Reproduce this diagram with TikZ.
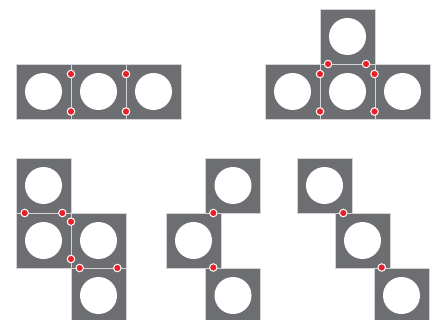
\documentclass[tikz,border=0pt]{standalone}
\definecolor{tilegray}{HTML}{6D6E71}
\definecolor{edgegray}{HTML}{D4D4D6}
\definecolor{dotred}{HTML}{E8202A}
\tikzset{
  tile/.style={rectangle, minimum size=55pt, inner sep=0pt, outer sep=0pt,
    fill=tilegray, draw=edgegray, line width=0.8pt,
    path picture={\fill[white] (path picture bounding box.center) circle (18.5pt);}},
  joint/.style={circle, minimum size=7.5pt, inner sep=0pt, fill=dotred, draw=white, line width=1pt}
}
\begin{document}
\begin{tikzpicture}[x=1pt,y=-1pt]
\useasboundingbox (0,0) rectangle (435,320);
\begin{scope}
\clip (0,0) rectangle (435,320);
% row of three
\node[tile] (r1) at (43.5,91.5) {};
\node[tile] (r2) at (98.5,91.5) {};
\node[tile] (r3) at (153.5,91.5) {};
% T shape
\node[tile] (t1) at (292.5,91.5) {};
\node[tile] (t2) at (347.5,91.5) {};
\node[tile] (t3) at (402.5,91.5) {};
\node[tile] (t4) at (347.5,36.5) {};
% S shape
\node[tile] (s1) at (43.5,185.5) {};
\node[tile] (s2) at (43.5,240.5) {};
\node[tile] (s3) at (98.5,240.5) {};
\node[tile] (s4) at (98.5,295.5) {};
% zigzag
\node[tile] (z1) at (233,185.5) {};
\node[tile] (z2) at (193.5,240.5) {};
\node[tile] (z3) at (233,295.5) {};
% diagonal
\node[tile] (d1) at (324.5,185.5) {};
\node[tile] (d2) at (362.5,240.5) {};
\node[tile] (d3) at (401.5,295.5) {};
\end{scope}
% joints
\node[joint] (j1) at (71,74) {};
\node[joint] (j2) at (71,111.5) {};
\node[joint] (j3) at (126,74) {};
\node[joint] (j4) at (126,111.5) {};
\node[joint] (j5) at (320,74) {};
\node[joint] (j6) at (320,111.5) {};
\node[joint] (j7) at (374.5,74) {};
\node[joint] (j8) at (374.5,111.5) {};
\node[joint] (j9) at (328,64) {};
\node[joint] (j10) at (366,64) {};
\node[joint] (j11) at (24.7,213) {};
\node[joint] (j12) at (62.3,213) {};
\node[joint] (j13) at (71,221.7) {};
\node[joint] (j14) at (71,259) {};
\node[joint] (j15) at (79.7,268) {};
\node[joint] (j16) at (117.3,268) {};
\node[joint] (j17) at (213.3,213) {};
\node[joint] (j18) at (213.3,267.5) {};
\node[joint] (j19) at (343.3,213) {};
\node[joint] (j20) at (381.7,267.5) {};
\end{tikzpicture}
\end{document}
